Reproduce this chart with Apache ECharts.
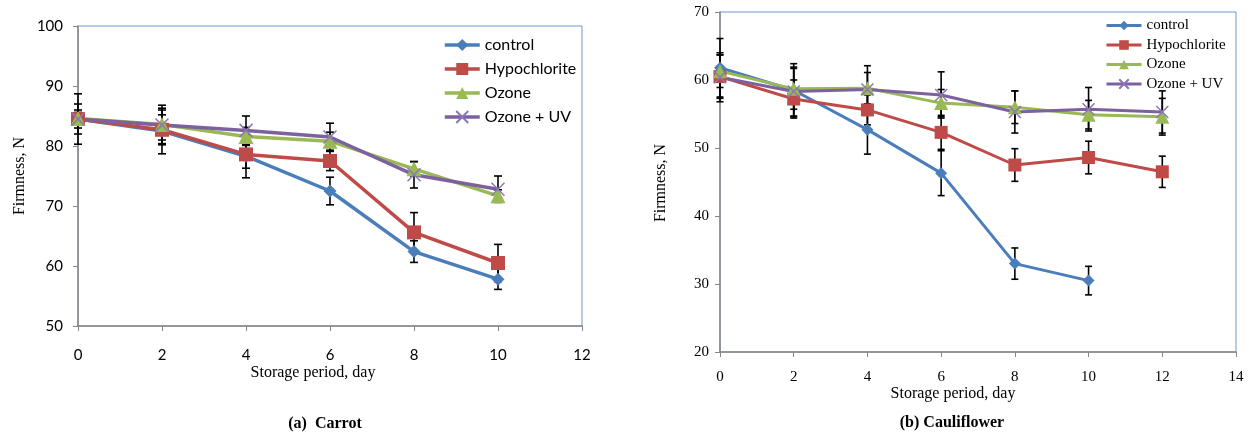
<!DOCTYPE html>
<html>
<head>
<meta charset="utf-8">
<script src="https://cdn.jsdelivr.net/npm/echarts@6/dist/echarts.min.js"></script>
<style>
  html, body { margin: 0; padding: 0; background: #fff; }
  #chart { width: 1249px; height: 435px; }
</style>
</head>
<body>
<div id="chart"></div>
<script>
// Storage days
const daysCarrot = [0, 2, 4, 6, 8, 10];
const daysCaulControl = [0, 2, 4, 6, 8, 10];
const daysCaul = [0, 2, 4, 6, 8, 10, 12];

const seriesNames = ['control', 'Hypochlorite', 'Ozone', 'Ozone + UV'];

// (a) Carrot firmness, N
const carrotControl = [84.5, 82.5, 78.3, 72.5, 62.4, 57.8];
const carrotHypo    = [84.5, 82.7, 78.6, 77.5, 65.6, 60.5];
const carrotOzone   = [84.6, 83.6, 81.6, 80.8, 76.2, 71.7];
const carrotOzoneUV = [84.5, 83.5, 82.6, 81.5, 75.2, 72.8];
// standard deviations
const carrotControlErr = [4.2, 3.8, 3.6, 2.3, 1.8, 1.7];
const carrotHypoErr    = [2.5, 2.5, 2.3, 1.6, 3.3, 3.1];
const carrotOzoneErr   = [1.0, 3.2, 1.5, 1.5, 1.2, 1.0];
const carrotOzoneUVErr = [1.5, 2.5, 2.4, 2.3, 2.2, 2.2];

// (b) Cauliflower firmness, N
const caulControl = [61.8, 58.5, 52.7, 46.3, 33.0, 30.5];
const caulHypo    = [60.5, 57.2, 55.6, 52.3, 47.5, 48.6, 46.5];
const caulOzone   = [61.3, 58.7, 58.8, 56.6, 56.0, 54.9, 54.6];
const caulOzoneUV = [60.4, 58.3, 58.6, 57.8, 55.3, 55.7, 55.3];
const caulControlErr = [4.3, 3.9, 3.6, 3.3, 2.3, 2.1];
const caulHypoErr    = [3.2, 2.8, 2.2, 2.5, 2.4, 2.4, 2.3];
const caulOzoneErr   = [2.4, 3.0, 2.3, 2.0, 2.4, 2.1, 2.7];
const caulOzoneUVErr = [3.6, 3.6, 3.5, 3.4, 3.1, 3.2, 3.1];

const colors = ['#4A7EBB', '#BE4B48', '#98B954', '#7D60A0'];
const symbols = ['diamond', 'rect', 'triangle', 'path://M0 0L10 10M10 0L0 10'];

const serif = '"Liberation Serif", "Times New Roman", serif';
const sans = 'Lato, "Open Sans", sans-serif';

function pairs(xs, ys) { return xs.map((x, i) => [x, ys[i]]); }

function lineSeries(idx, xs, ys, gridIdx, lw, sizes) {
  const isCross = idx === 3;
  return {
    type: 'line',
    name: seriesNames[idx],
    xAxisIndex: gridIdx, yAxisIndex: gridIdx,
    data: pairs(xs, ys),
    symbol: symbols[idx],
    symbolSize: sizes[idx],
    showSymbol: true,
    clip: false,
    z: 3,
    lineStyle: { color: colors[idx], width: lw },
    itemStyle: isCross
      ? { color: colors[idx], borderColor: '#8C76B4', borderWidth: 1.5 }
      : { color: colors[idx], borderWidth: 0 }
  };
}

function errRows(xs, ys, es) {
  return xs.map((x, i) => [x, ys[i] - es[i], ys[i] + es[i]]);
}

function errSeries(rows, gridIdx, capHalf) {
  return {
    type: 'custom',
    xAxisIndex: gridIdx, yAxisIndex: gridIdx,
    data: rows,
    z: 2,
    silent: true,
    encode: { x: 0, y: [1, 2] },
    renderItem: function (params, api) {
      const x = api.value(0);
      const top = api.coord([x, api.value(2)]);
      const bot = api.coord([x, api.value(1)]);
      const st = { stroke: '#000', lineWidth: 1.6 };
      return {
        type: 'group',
        children: [
          { type: 'line', shape: { x1: top[0], y1: top[1], x2: bot[0], y2: bot[1] }, style: st },
          { type: 'line', shape: { x1: top[0] - capHalf, y1: top[1], x2: top[0] + capHalf, y2: top[1] }, style: st },
          { type: 'line', shape: { x1: bot[0] - capHalf, y1: bot[1], x2: bot[0] + capHalf, y2: bot[1] }, style: st }
        ]
      };
    }
  };
}

const carrotErr = []
  .concat(errRows(daysCarrot, carrotControl, carrotControlErr))
  .concat(errRows(daysCarrot, carrotHypo, carrotHypoErr))
  .concat(errRows(daysCarrot, carrotOzone, carrotOzoneErr))
  .concat(errRows(daysCarrot, carrotOzoneUV, carrotOzoneUVErr));
const caulErr = []
  .concat(errRows(daysCaulControl, caulControl, caulControlErr))
  .concat(errRows(daysCaul, caulHypo, caulHypoErr))
  .concat(errRows(daysCaul, caulOzone, caulOzoneErr))
  .concat(errRows(daysCaul, caulOzoneUV, caulOzoneUVErr));

const axisGray = '#868686';
const borderBlue = '#6F96C8';

function xAxisOf(gridIdx, max, labelFont, margin) {
  return {
    type: 'value', gridIndex: gridIdx, min: 0, max: max, interval: 2,
    axisLine: { show: true, onZero: false, lineStyle: { color: axisGray, width: 1.5 } },
    axisTick: { show: true, length: 5, lineStyle: { color: axisGray } },
    splitLine: { show: false },
    axisLabel: { color: '#000', margin: margin, fontSize: 15, fontFamily: labelFont }
  };
}
function yAxisOf(gridIdx, min, max, labelFont, margin) {
  return {
    type: 'value', gridIndex: gridIdx, min: min, max: max, interval: 10,
    axisLine: { show: true, lineStyle: { color: axisGray, width: 1.5 } },
    axisTick: { show: true, length: 5, lineStyle: { color: axisGray } },
    splitLine: { show: false },
    axisLabel: { color: '#000', margin: margin, fontSize: 15, fontFamily: labelFont }
  };
}

const option = {
  animation: false,
  backgroundColor: '#fff',
  grid: [
    { left: 78, top: 26, width: 504, height: 300, show: true, borderColor: borderBlue, borderWidth: 1, backgroundColor: 'transparent' },
    { left: 720, top: 12, width: 516, height: 340, show: true, borderColor: borderBlue, borderWidth: 1, backgroundColor: 'transparent' }
  ],
  xAxis: [ xAxisOf(0, 12, sans, 22), xAxisOf(1, 14, serif, 18) ],
  yAxis: [ yAxisOf(0, 50, 100, sans, 15), yAxisOf(1, 20, 70, serif, 11) ],
  legend: [
    {
      data: seriesNames, orient: 'vertical', left: 438, top: 32,
      itemWidth: 35, itemHeight: 15, itemGap: 8,
      lineStyle: { width: 3.5 },
      textStyle: { fontSize: 16, fontFamily: sans, color: '#000' },
      selectedMode: false
    },
    {
      data: seriesNames, orient: 'vertical', left: 1100, top: 13,
      itemWidth: 35, itemHeight: 12, itemGap: 4.5,
      lineStyle: { width: 3 },
      textStyle: { fontSize: 15, fontFamily: serif, color: '#000' },
      selectedMode: false
    }
  ],
  graphic: [
    { type: 'text', x: 20, y: 176, rotation: Math.PI / 2,
      style: { text: 'Firmness, N', align: 'center', verticalAlign: 'middle', font: '16px ' + serif, fill: '#000' } },
    { type: 'text', x: 313, y: 373,
      style: { text: 'Storage period, day', align: 'center', verticalAlign: 'middle', font: '16px ' + serif, fill: '#000' } },
    { type: 'text', x: 325, y: 424,
      style: { text: '(a)  Carrot', align: 'center', verticalAlign: 'middle', font: 'bold 16px ' + serif, fill: '#000' } },
    { type: 'text', x: 661, y: 183, rotation: Math.PI / 2,
      style: { text: 'Firmness, N', align: 'center', verticalAlign: 'middle', font: '16px ' + serif, fill: '#000' } },
    { type: 'text', x: 953, y: 394,
      style: { text: 'Storage period, day', align: 'center', verticalAlign: 'middle', font: '16px ' + serif, fill: '#000' } },
    { type: 'text', x: 952, y: 423,
      style: { text: '(b) Cauliflower', align: 'center', verticalAlign: 'middle', font: 'bold 16px ' + serif, fill: '#000' } }
  ],
  series: [
    errSeries(carrotErr, 0, 4),
    lineSeries(0, daysCarrot, carrotControl, 0, 3.5, [13, 14, 15, 13]),
    lineSeries(1, daysCarrot, carrotHypo, 0, 3.5, [13, 14, 15, 13]),
    lineSeries(2, daysCarrot, carrotOzone, 0, 3.5, [13, 14, 15, 13]),
    lineSeries(3, daysCarrot, carrotOzoneUV, 0, 3.5, [13, 14, 15, 13]),
    errSeries(caulErr, 1, 3.5),
    lineSeries(0, daysCaulControl, caulControl, 1, 3, [12, 13, 14, 12]),
    lineSeries(1, daysCaul, caulHypo, 1, 3, [12, 13, 14, 12]),
    lineSeries(2, daysCaul, caulOzone, 1, 3, [12, 13, 14, 12]),
    lineSeries(3, daysCaul, caulOzoneUV, 1, 3, [12, 13, 14, 12])
  ]
};

const chart = echarts.init(document.getElementById('chart'), null, { renderer: 'canvas' });
chart.setOption(option);
</script>
</body>
</html>
